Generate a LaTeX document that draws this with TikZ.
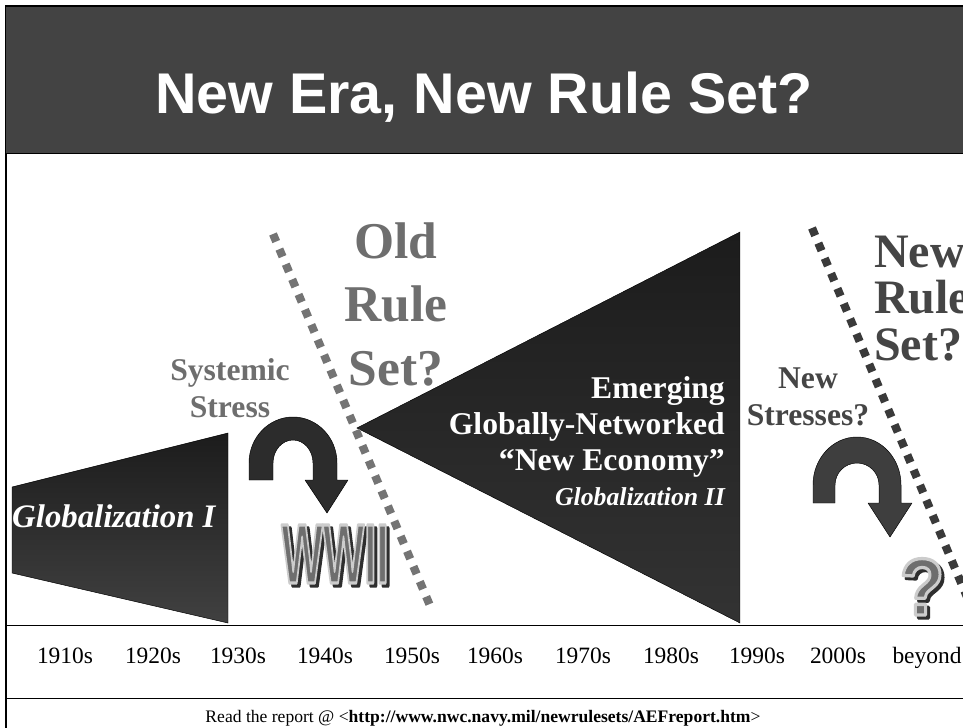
\documentclass[tikz,border=0pt]{standalone}
\usepackage{fontspec}
\setmainfont{Liberation Serif}
\newfontfamily\headfont{Liberation Sans}
\usepackage{graphicx}
\usetikzlibrary{positioning,calc}

% outlined glyphs: fill in the text colour, stroke in #1 (rgb triple)
\newcommand\blockletters[2]{\special{pdf:literal direct #1 RG 2 Tr 2.8 w 1 j}#2\special{pdf:literal direct 0 Tr}}

\definecolor{bandgray}{HTML}{434343}
\definecolor{oldgray}{HTML}{6E6E6E}
\definecolor{newgray}{HTML}{454545}
\definecolor{dotgray}{HTML}{747474}
\definecolor{dotdark}{HTML}{3A3A3A}
\definecolor{wedgedark}{HTML}{1C1C1C}
\definecolor{wedgemid}{HTML}{4C4C4C}
\definecolor{turnlight}{HTML}{888888}
\definecolor{turndark}{HTML}{2C2C2C}
\definecolor{blockfill}{HTML}{6E6E6E}
\definecolor{blockshade}{HTML}{2E2E2E}

\begin{document}
\begin{tikzpicture}[
    x=0.03cm, y=-0.03cm,
    headlbl/.style={font=\headfont\bfseries\fontsize{49}{55}\selectfont, text=white, anchor=base, inner sep=0pt},
    rulelbl/.style={font=\bfseries\fontsize{44}{54}\selectfont, text=oldgray, align=center, anchor=base, inner sep=0pt},
    newrulelbl/.style={font=\bfseries\fontsize{41}{39.5}\selectfont, text=newgray, align=left, anchor=base west, inner sep=0pt},
    stresslbl/.style={font=\bfseries\fontsize{27}{31.5}\selectfont, align=center, anchor=base, inner sep=0pt},
    eralbl/.style={font=\bfseries\fontsize{27}{30.6}\selectfont, text=white, align=right, anchor=base east, inner sep=0pt},
    yearlbl/.style={font=\fontsize{20}{24}\selectfont, anchor=base, inner sep=0pt},
    footlbl/.style={font=\fontsize{15}{18}\selectfont, anchor=base, inner sep=0pt},
    blocklbl/.style={font=\headfont\bfseries\fontsize{72}{72}\selectfont, anchor=base, inner sep=0pt},
    dotline/.style={line width=7pt, dash pattern=on 7pt off 7pt},
    wedge/.style={draw=black, thin},
    uturn/.style={draw=black, thin, line join=round}
]
    \useasboundingbox (0,0) rectangle (963,727);
    \clip (0,0) rectangle (963,727);

    % Frame and title band
    \fill[white] (0,0) rectangle (963,727);
    \draw[black, line width=1pt] (6,6) rectangle (990,760);
    \fill[bandgray] (6,7) rectangle (963,153);
    \draw[black, thin] (6,153) -- (963,153);
    \node[headlbl] (title) at (484,113) {New Era, New Rule Set?};

    % Timeline rules
    \draw[black, thin] (6,625) -- (963,625);
    \draw[black, thin] (6,698) -- (963,698);

    % Globalization I wedge
    \shade[wedge, top color=wedgedark, bottom color=wedgemid!85!black]
        (12,487) -- (228,433) -- (228,623) -- (12,573) -- cycle;
    \node[font=\bfseries\itshape\fontsize{28}{32}\selectfont, text=white, anchor=base west, inner sep=0pt]
        (globone) at (12,527) {Globalization I};

    % Globalization II wedge (apex on the old-rules divider)
    \shade[wedge, top color=wedgedark, middle color=wedgemid, bottom color=wedgedark!90!white]
        (357,428) -- (740,232) -- (740,623) -- cycle;
    \node[eralbl] (emerging) at (725,470) {Emerging\\Globally-Networked\\“New Economy”};
    \node[eralbl, font=\bfseries\itshape\fontsize{22}{26}\selectfont] (globtwo) at (725,505) {Globalization II};

    % Dotted dividers
    \coordinate (oldtop) at (273,234);
    \coordinate (oldbot) at (431,608);
    \draw[dotline, dotgray] (oldtop) -- (oldbot);
    \coordinate (newtop) at (812,228);
    \coordinate (newbot) at (975,616);
    \draw[dotline, dotdark] (newtop) -- (newbot);

    % Rule set labels (base = last line)
    \node[rulelbl] (oldrules) at (396,385) {Old\\Rule\\Set?};
    \node[newrulelbl] (newrules) at (874,360) {New\\Rule\\Set?};

    % Stress labels
    \node[stresslbl, text=oldgray] (sysstress) at (230,417) {Systemic\\Stress};
    \node[stresslbl, text=newgray] (newstress) at (808,425) {New\\Stresses?};

    % U-turn arrows
    \shade[uturn, top color=turndark, middle color=turnlight, bottom color=turndark]
        (249,480) -- (249,463) arc[start angle=180, end angle=360, x radius=44, y radius=46]
        -- (337,480) -- (348,480) -- (327,513) -- (305,480) -- (313,480) -- (313,463)
        arc[start angle=360, end angle=180, x radius=20, y radius=23] -- (273,480) -- cycle;
    \fill[uturn, fill=newgray!90!black]
        (813,503) -- (813,485) arc[start angle=180, end angle=360, x radius=44, y radius=48]
        -- (901,503) -- (912,503) -- (890,537) -- (868,503) -- (879,503) -- (879,485)
        arc[start angle=360, end angle=180, x radius=22, y radius=22] -- (835,503) -- cycle;

    % Block lettering (shadow first)
    \node[blocklbl, text=blockshade] (wwiishade) at (338,586) {\scalebox{0.52}[1]{\blockletters{0.18 0.18 0.18}{WWII}}};
    \node[blocklbl, text=blockfill] (wwii) at (335,583) {\scalebox{0.52}[1]{\blockletters{0.8 0.8 0.8}{WWII}}};
    \node[blocklbl, font=\headfont\bfseries\fontsize{69}{69}\selectfont, text=blockshade] (qshade) at (925,618) {\scalebox{0.9}[1]{\blockletters{0.18 0.18 0.18}{?}}};
    \node[blocklbl, font=\headfont\bfseries\fontsize{69}{69}\selectfont, text=blockfill] (qmark) at (922,615) {\scalebox{0.9}[1]{\blockletters{0.8 0.8 0.8}{?}}};

    % Decade labels
    \foreach \lbl/\xc [count=\i] in {1910s/65, 1920s/153, 1930s/238, 1940s/325, 1950s/412,
                                    1960s/495, 1970s/583, 1980s/671, 1990s/757, 2000s/838, beyond/927}
        \node[yearlbl] (year\i) at (\xc,663) {\lbl};

    % Footer
    \node[footlbl] (footer) at (483,722) {Read the report @ <\textbf{http://www.nwc.navy.mil/newrulesets/AEFreport.htm}>};
\end{tikzpicture}
\end{document}
